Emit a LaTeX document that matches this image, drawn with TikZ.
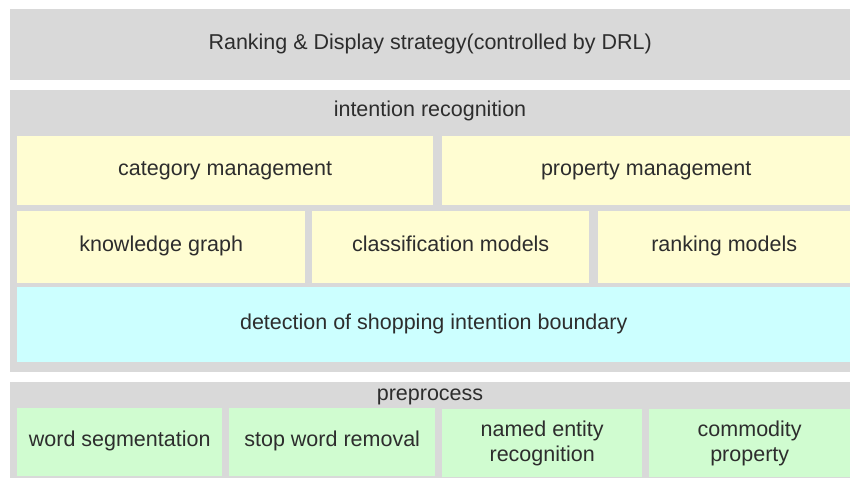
\documentclass[tikz,border=0pt]{standalone}
\usepackage{fontspec}
\setmainfont{Liberation Sans}
\definecolor{panelgray}{RGB}{217,217,217}
\definecolor{paleyellow}{RGB}{255,253,210}
\definecolor{palecyan}{RGB}{204,255,255}
\definecolor{palegreen}{RGB}{208,252,208}
\definecolor{inkgray}{RGB}{45,45,45}
\usetikzlibrary{positioning}

\begin{document}
\begin{tikzpicture}[
    x=1pt, y=-1pt,
    block/.style={
      rectangle,
      inner sep=0pt,
      anchor=north west,
      align=center,
      text=inkgray,
      font=\fontsize{21.5}{25}\selectfont
    },
    oneline/.style={text height=1.0em, text depth=0.12em},
    panel/.style={block, oneline, fill=panelgray},
    concept/.style={block, oneline, fill=paleyellow},
    detect/.style={block, oneline, fill=palecyan},
    prep/.style={block, fill=palegreen},
    title/.style={inner sep=0pt, oneline, text=inkgray, font=\fontsize{21.5}{25}\selectfont}
  ]
    \useasboundingbox (0,0) rectangle (850,481);

    % Top layer
    \node (ranking) [panel, minimum width=840pt, minimum height=71pt] at (10,9) {Ranking \& Display strategy(controlled by DRL)};

    % Intention recognition layer
    \node (intent) [panel, minimum width=840pt, minimum height=282pt] at (10,90) {};
    \node (intenttitle) [title] at (430,112) {intention recognition};
    \node (category) [concept, minimum width=416pt, minimum height=69pt] at (17,136) {category management};
    \node (property) [concept, minimum width=408pt, minimum height=69pt] at (442,136) {property management};
    \node (knowledge) [concept, minimum width=288pt, minimum height=72pt] at (17,211) {knowledge graph};
    \node (classify) [concept, minimum width=277pt, minimum height=72pt] at (312,211) {classification models};
    \node (rankmodels) [concept, minimum width=252pt, minimum height=72pt] at (598,211) {ranking models};
    \node (boundary) [detect, minimum width=833pt, minimum height=75pt] at (17,287) {detection of shopping intention boundary};

    % Preprocess layer
    \node (pre) [panel, minimum width=840pt, minimum height=96pt] at (10,382) {};
    \node (pretitle) [title] at (430,396) {preprocess};
    \node (segment) [prep, oneline, minimum width=205pt, minimum height=68pt] at (17,408) {word segmentation};
    \node (stopword) [prep, oneline, minimum width=206pt, minimum height=68pt] at (229,408) {stop word removal};
    \node (entity) [prep, minimum width=200pt, minimum height=68pt] at (442,409) {named entity\\recognition};
    \node (commodity) [prep, minimum width=201pt, minimum height=68pt] at (649,409) {commodity\\property};

  \end{tikzpicture}
\end{document}
